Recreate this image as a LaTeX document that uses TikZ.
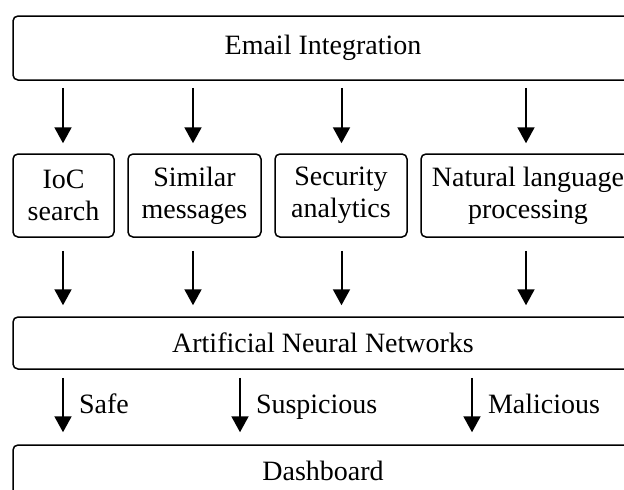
\documentclass[tikz,border=0pt]{standalone}
\usepackage{fontspec}
\setmainfont{Liberation Serif}
\usetikzlibrary{arrows.meta}
\tikzset{
  box/.style={draw, line width=1.5pt, rounded corners=5pt, inner sep=0pt,
    align=center, font=\fontsize{28}{32}\selectfont},
  wide/.style={box, minimum width=620pt},
  arr/.style={line width=2pt, -{Triangle[length=16pt,width=17pt]}},
  lbl/.style={midway, anchor=base west, inner sep=0pt, xshift=15pt, yshift=-8pt,
    font=\fontsize{28}{32}\selectfont}
}
\begin{document}
\begin{tikzpicture}[x=1pt, y=-1pt]
  \useasboundingbox (0,0) rectangle (624,490);
  \clip (0,0) rectangle (624,490);

  % top level: mail source
  \node[wide, minimum height=64pt] (email) at (323,48) {Email Integration};

  % analysis modules
  \node[box, minimum width=101pt, minimum height=83pt] (ioc) at (63.5,195.5) {IoC\\search};
  \node[box, minimum width=133pt, minimum height=83pt] (sim) at (194.5,195.5) {Similar\\messages};
  \node[box, minimum width=132pt, minimum height=83pt] (sec) at (341,195.5) {Security\\analytics};
  \node[box, minimum width=214pt, minimum height=83pt] (nlp) at (528,195.5) {Natural language\\processing};

  % classifier and output
  \node[wide, minimum height=52pt] (ann) at (323,343) {Artificial Neural Networks};
  \node[wide, minimum height=52pt] (dash) at (323,471) {Dashboard};

  % columns of the connectors
  \coordinate (k1) at (63,0);
  \coordinate (k2) at (193,0);
  \coordinate (k3) at (341.5,0);
  \coordinate (k4) at (526,0);
  \coordinate (c1) at (63,0);
  \coordinate (c2) at (240,0);
  \coordinate (c3) at (472,0);

  % email -> modules
  \draw[arr] ([yshift=-7pt]email.south -| k1) -- ([yshift=10pt]ioc.north -| k1);
  \draw[arr] ([yshift=-7pt]email.south -| k2) -- ([yshift=10pt]sim.north -| k2);
  \draw[arr] ([yshift=-7pt]email.south -| k3) -- ([yshift=10pt]sec.north -| k3);
  \draw[arr] ([yshift=-7pt]email.south -| k4) -- ([yshift=10pt]nlp.north -| k4);

  % modules -> ANN
  \draw[arr] ([yshift=-13pt]ioc.south -| k1) -- ([yshift=11pt]ann.north -| k1);
  \draw[arr] ([yshift=-13pt]sim.south -| k2) -- ([yshift=11pt]ann.north -| k2);
  \draw[arr] ([yshift=-13pt]sec.south -| k3) -- ([yshift=11pt]ann.north -| k3);
  \draw[arr] ([yshift=-13pt]nlp.south -| k4) -- ([yshift=11pt]ann.north -| k4);

  % ANN -> dashboard, with verdicts
  \draw[arr] ([yshift=-8pt]ann.south -| c1) -- ([yshift=12pt]dash.north -| c1) node[lbl] {Safe};
  \draw[arr] ([yshift=-8pt]ann.south -| c2) -- ([yshift=12pt]dash.north -| c2) node[lbl] {Suspicious};
  \draw[arr] ([yshift=-8pt]ann.south -| c3) -- ([yshift=12pt]dash.north -| c3) node[lbl] {Malicious};
\end{tikzpicture}
\end{document}
